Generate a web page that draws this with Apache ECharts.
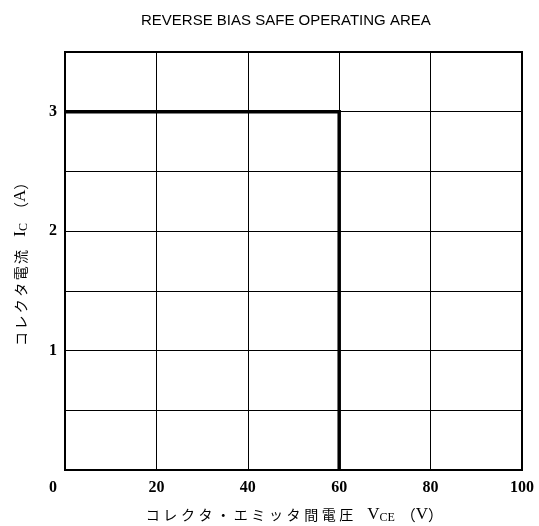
<!DOCTYPE html>
<html><head><meta charset="utf-8">
<script src="https://cdn.jsdelivr.net/npm/echarts@6/dist/echarts.min.js"></script>
<style>html,body{margin:0;padding:0;background:#fff}#c{width:539px;height:526px}</style>
</head><body><div id="c"></div>
<script>
const titleText = 'REVERSE BIAS SAFE OPERATING AREA';
const xNameJp = 'コレクタ・エミッタ間電圧';
const yNameJp = 'コレクタ電流';
const vce = [0, 60, 60];
const ic = [3, 3, 0];
const xTicks = [0, 20, 40, 60, 80, 100];
const yTickLabels = [1, 2, 3];
const serif = '"Liberation Serif","Noto Sans CJK JP",serif';
const cjk = '"Noto Sans CJK JP",serif';

function spaced(str, tag) {
  return Array.from(str).map(ch => '{' + tag + '|' + ch + '}').join('');
}
const nameRich = {
  x: {fontFamily: cjk, fontSize: 14, color: '#000', width: 17.6, align: 'center'},
  y: {fontFamily: cjk, fontSize: 14, color: '#000', width: 16.4, align: 'center'},
  g: {fontSize: 14, width: 12},
  h: {fontSize: 14, width: 6},
  b: {fontFamily: serif, fontSize: 17, color: '#000'},
  p: {fontFamily: cjk, fontSize: 15, color: '#000', width: 15, align: 'center'},
  sub: {fontFamily: serif, fontSize: 12, color: '#000', verticalAlign: 'bottom', padding: [6, 0, 0, 0]}
};

const chart = echarts.init(document.getElementById('c'));
chart.setOption({
  animation: false,
  backgroundColor: '#fff',
  title: {
    text: titleText, left: 136, top: 8,
    textStyle: {fontFamily: '"Liberation Sans",sans-serif', fontSize: 15, fontWeight: 'normal', color: '#000'}
  },
  grid: {left: 65, right: 17, top: 52, bottom: 56, show: true, borderColor: '#000', borderWidth: 2, outerBoundsMode: 'none', containLabel: false},
  xAxis: {
    type: 'value', min: 0, max: 100, interval: 20,
    name: spaced(xNameJp, 'x') + '{g|}{b|V}{sub|CE}{h|}{p|（}{b|V}{p|）}',
    nameLocation: 'middle', nameGap: 36,
    nameTextStyle: {rich: nameRich},
    axisLine: {show: true, lineStyle: {color: '#000', width: 2}},
    axisTick: {show: false},
    axisLabel: {
      margin: 10,
      formatter: v => xTicks.includes(v) ? (v === 0 ? '{z|0}' : String(v)) : '',
      fontFamily: serif, fontSize: 16, fontWeight: 'bold', color: '#000',
      rich: {z: {fontFamily: serif, fontSize: 16, fontWeight: 'bold', color: '#000', padding: [0, 24, 0, 0]}}
    },
    splitLine: {show: true, lineStyle: {color: '#000', width: 1}}
  },
  yAxis: {
    type: 'value', min: 0, max: 3.5, interval: 0.5,
    name: spaced(yNameJp, 'y') + '{g|}{b|I}{sub|C}{h|}{p|（}{b|A}{p|）}',
    nameLocation: 'middle', nameGap: 35, nameRotate: 90,
    nameTextStyle: {rich: nameRich},
    axisLine: {show: true, lineStyle: {color: '#000', width: 2}},
    axisTick: {show: false},
    axisLabel: {
      margin: 8,
      formatter: v => yTickLabels.includes(v) ? String(v) : '',
      fontFamily: serif, fontSize: 16, fontWeight: 'bold', color: '#000'
    },
    splitLine: {show: true, lineStyle: {color: '#000', width: 1}}
  },
  series: [{
    type: 'line',
    data: vce.map((x, i) => [x, ic[i]]),
    symbol: 'none',
    lineStyle: {color: '#000', width: 3.5, join: 'miter'},
    z: 5
  }]
});
</script></body></html>
